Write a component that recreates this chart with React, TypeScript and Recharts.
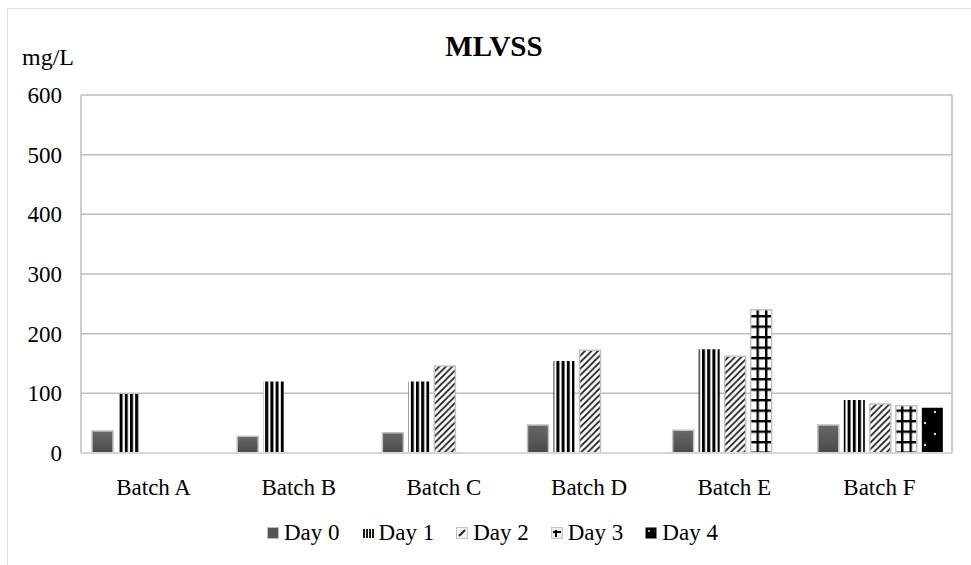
import React from 'react';
import { BarChart, Bar, XAxis, YAxis, CartesianGrid } from 'recharts';

const batches = ['Batch A', 'Batch B', 'Batch C', 'Batch D', 'Batch E', 'Batch F'];
const day0 = [37, 28, 34, 47, 38, 47];
const day1 = [99, 120, 120, 154, 174, 89];
const day2 = [null, null, 146, 172, 162, 82];
const day3 = [null, null, null, null, 240, 79];
const day4 = [null, null, null, null, null, 76];
const yTicks = [0, 100, 200, 300, 400, 500, 600];
const dayNames = ['Day 0', 'Day 1', 'Day 2', 'Day 3', 'Day 4'];

const data = batches.map((b, i) => ({
  name: b,
  d0: day0[i],
  d1: day1[i],
  d2: day2[i],
  d3: day3[i],
  d4: day4[i],
}));

const FONT = '"Liberation Serif", "Times New Roman", serif';

// fill + border per series, patterns are defined once in Patterns()
const series = [
  { key: 'd0', fill: 'url(#pDay0)', stroke: '#c2c2c2' },
  { key: 'd1', fill: 'url(#pDay1)', stroke: 'none' },
  { key: 'd2', fill: 'url(#pDay2)', stroke: '#c2c2c2' },
  { key: 'd3', fill: 'url(#pDay3)', stroke: '#c2c2c2' },
  { key: 'd4', fill: 'url(#pDay4)', stroke: 'none' },
];

function Patterns() {
  return (
    <svg width={0} height={0} style={{ position: 'absolute' }}>
      <defs>
        <linearGradient id="pDay0" x1="0" y1="0" x2="0" y2="1">
          <stop offset="0%" stopColor="#686868" />
          <stop offset="100%" stopColor="#4a4a4a" />
        </linearGradient>
        <pattern id="pDay1" patternUnits="userSpaceOnUse" width={5.2} height={10}>
          <rect width={5.2} height={10} fill="#fff" />
          <rect width={3} height={10} fill="#000" />
        </pattern>
        <pattern id="pDay2" patternUnits="userSpaceOnUse" width={6.5} height={6.5}>
          <rect width={6.5} height={6.5} fill="#fff" />
          <path d="M-1,7.5 L7.5,-1 M-1,1 L1,-1 M5.5,7.5 L7.5,5.5" stroke="#1a1a1a" strokeWidth={1.8} />
        </pattern>
        <pattern id="pDay3" patternUnits="userSpaceOnUse" width={8.5} height={10.5}>
          <rect width={8.5} height={10.5} fill="#fff" />
          <rect x={0} y={0} width={2.4} height={10.5} fill="#000" />
          <rect x={0} y={0} width={8.5} height={2.4} fill="#000" />
        </pattern>
        <pattern id="pDay4" patternUnits="userSpaceOnUse" width={20} height={22}>
          <rect width={20} height={22} fill="#000" />
          <circle cx={5} cy={5} r={1.2} fill="#ddd" />
          <circle cx={15} cy={16} r={1.2} fill="#ddd" />
        </pattern>
      </defs>
    </svg>
  );
}

function Swatch({ i }: { i: number }) {
  const box = { marginRight: 5, marginTop: 1 };
  if (i === 0)
    return (
      <svg width={12} height={12} style={box}>
        <rect x={0.5} y={0.5} width={11} height={11} fill="#555" stroke="#bdbdbd" />
      </svg>
    );
  if (i === 1)
    return (
      <svg width={12} height={12} style={box}>
        <path d="M2,2 V11 M5,2 V11 M8,2 V11 M11,2 V11" stroke="#000" strokeWidth={1.8} />
      </svg>
    );
  if (i === 2)
    return (
      <svg width={12} height={12} style={box}>
        <rect x={0.5} y={0.5} width={11} height={11} fill="#f4f4f4" stroke="#c4c4c4" />
        <path d="M3,9 L9,3" stroke="#222" strokeWidth={2} />
      </svg>
    );
  if (i === 3)
    return (
      <svg width={12} height={12} style={box}>
        <rect x={0.5} y={0.5} width={11} height={11} fill="#ececec" stroke="#c4c4c4" />
        <path d="M2,5 H10 M5,3 V10" stroke="#000" strokeWidth={2} />
      </svg>
    );
  return (
    <svg width={12} height={12} style={box}>
      <rect x={0.5} y={0.5} width={11} height={11} fill="#000" />
      <circle cx={4} cy={4} r={1.1} fill="#ddd" />
    </svg>
  );
}

function Legend() {
  return (
    <div
      style={{
        position: 'absolute',
        left: 267,
        top: 521,
        display: 'flex',
        gap: 22,
        fontFamily: FONT,
        fontSize: 23,
        lineHeight: '23px',
        color: '#000',
      }}
    >
      {dayNames.map((d, i) => (
        <div key={d} style={{ display: 'flex', alignItems: 'center' }}>
          <Swatch i={i} />
          <span>{d}</span>
        </div>
      ))}
    </div>
  );
}

export default function App() {
  return (
    <div
      style={{
        position: 'fixed',
        left: 0,
        top: 0,
        width: 971,
        height: 565,
        overflow: 'hidden',
        background: '#fff',
        fontFamily: FONT,
      }}
    >
      <Patterns />
      <div
        style={{
          position: 'absolute',
          left: 7,
          top: 8,
          width: 1000,
          height: 600,
          border: '1px solid #dfe2e7',
        }}
      />
      <div
        style={{
          position: 'absolute',
          left: 394,
          width: 200,
          top: 32,
          textAlign: 'center',
          fontFamily: FONT,
          fontSize: 29,
          lineHeight: '29px',
          fontWeight: 'bold',
        }}
      >
        MLVSS
      </div>
      <div style={{ position: 'absolute', left: 22, top: 45, fontFamily: FONT, fontSize: 24, lineHeight: '24px' }}>
        mg/L
      </div>
      <div style={{ position: 'absolute', left: 0, top: 0 }}>
        <BarChart
          width={971}
          height={565}
          data={data}
          margin={{ top: 95, right: 19, bottom: 52, left: 0 }}
          barCategoryGap={11}
          barGap={5}
          style={{ fontFamily: FONT }}
        >
          <CartesianGrid
            stroke="#bdbdbd"
            strokeWidth={1.5}
            verticalCoordinatesGenerator={({ offset }: any) => [offset.left, offset.left + offset.width]}
          />
          <XAxis
            dataKey="name"
            height={60}
            tickLine={false}
            tickSize={0}
            tickMargin={26}
            axisLine={{ stroke: '#d6d6d6', strokeWidth: 2 }}
            tick={{ fill: '#000', fontSize: 23, fontFamily: FONT }}
          />
          <YAxis
            width={81}
            domain={[0, 600]}
            ticks={yTicks}
            axisLine={false}
            tickLine={false}
            tickSize={0}
            tickMargin={19}
            tick={{ fill: '#000', fontSize: 23, fontFamily: FONT }}
          />
          {series.map((s) => (
            <Bar
              key={s.key}
              dataKey={s.key}
              fill={s.fill}
              stroke={s.stroke}
              strokeWidth={1.5}
              isAnimationActive={false}
            />
          ))}
        </BarChart>
      </div>
      <Legend />
    </div>
  );
}
